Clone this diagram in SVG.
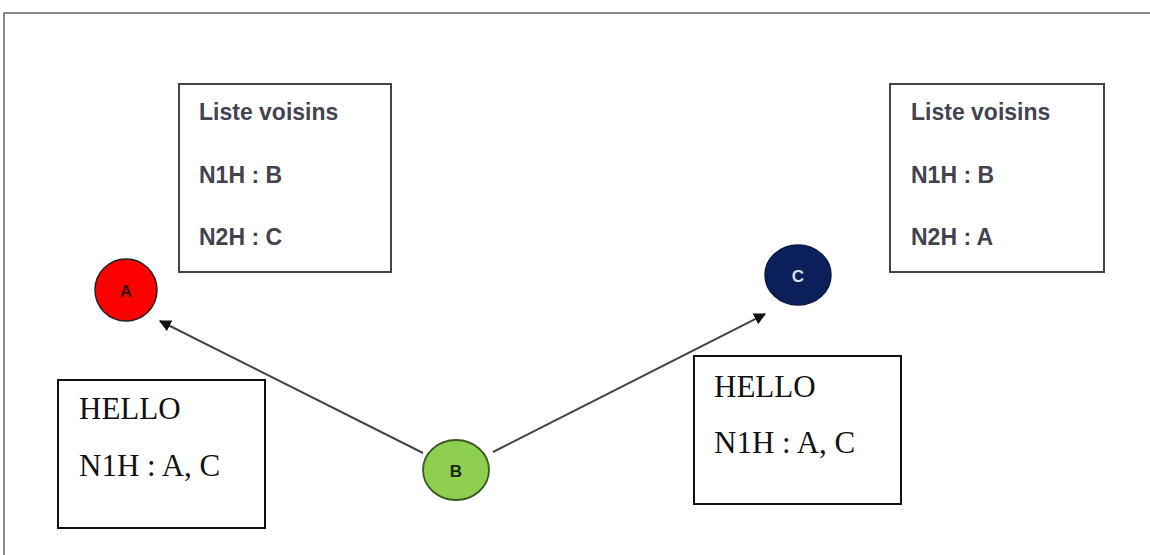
<svg xmlns="http://www.w3.org/2000/svg" width="1150" height="555" viewBox="0 0 1150 555">
<style>
.box{fill:#fff;stroke:#444;stroke-width:2}
.lst{font-family:"Liberation Sans",Arial,sans-serif;font-size:23px;fill:#43434f;font-weight:bold}
.hello{font-family:"Liberation Serif","Times New Roman",serif;font-size:31px;fill:#111}
.hbox{fill:#fff;stroke:#111;stroke-width:2}
.lbl{font-family:"Liberation Sans",Arial,sans-serif;font-size:17px;font-weight:bold;text-anchor:middle}
.edge{stroke:#454545;stroke-width:2;fill:none}
</style>
<defs>
<marker id="arr" viewBox="0 0 10 10" refX="9" refY="5" markerWidth="6" markerHeight="6" orient="auto" markerUnits="strokeWidth">
<path d="M0,0 L10,5 L0,10 z" fill="#111"/>
</marker>
</defs>
<rect width="1150" height="555" fill="#fff"/>
<rect x="4" y="13" width="1160" height="560" fill="none" stroke="#666" stroke-width="1.5"/>
<g id="connectors">
<line class="edge" x1="423" y1="453" x2="160" y2="321" marker-end="url(#arr)"/>
<line class="edge" x1="493" y1="452" x2="765" y2="314" marker-end="url(#arr)"/>
</g>
<g id="listA">
<rect class="box" x="179" y="84" width="212" height="188"/>
<text class="lst" x="199" y="120">Liste voisins</text>
<text class="lst" x="199" y="183">N1H : B</text>
<text class="lst" x="199" y="245">N2H : C</text>
</g>
<g id="listC">
<rect class="box" x="890" y="84" width="214" height="188"/>
<text class="lst" x="911" y="120">Liste voisins</text>
<text class="lst" x="911" y="183">N1H : B</text>
<text class="lst" x="911" y="245">N2H : A</text>
</g>
<g id="nodeA">
<circle cx="126" cy="290" r="31" fill="#ff0000" stroke="#222" stroke-width="1.5"/>
<text class="lbl" x="126" y="297" fill="#3a1010">A</text>
</g>
<g id="nodeC">
<ellipse cx="798" cy="275" rx="33" ry="30" fill="#0b1f5a" stroke="#0b1a44" stroke-width="1.5"/>
<text class="lbl" x="798" y="282" fill="#dcdcea">C</text>
</g>
<g id="nodeB">
<ellipse cx="456" cy="470" rx="33" ry="30" fill="#8fcf4f" stroke="#3c5a20" stroke-width="1.8"/>
<text class="lbl" x="456" y="477" fill="#1a2a10">B</text>
</g>
<g id="helloLeft">
<rect class="hbox" x="58" y="380" width="207" height="148"/>
<text class="hello" x="79" y="419">HELLO</text>
<text class="hello" x="79" y="476">N1H : A, C</text>
</g>
<g id="helloRight">
<rect class="hbox" x="694" y="356" width="207" height="148"/>
<text class="hello" x="714" y="397">HELLO</text>
<text class="hello" x="714" y="453">N1H : A, C</text>
</g>
</svg>
